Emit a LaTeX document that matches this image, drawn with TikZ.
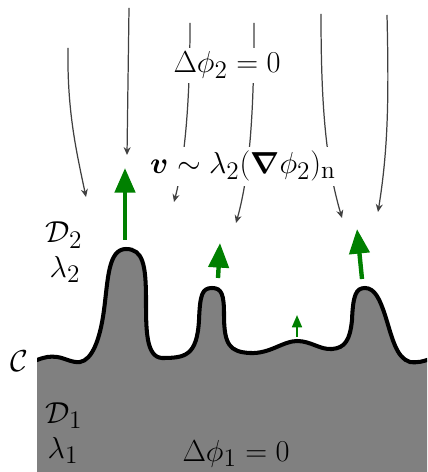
\documentclass[tikz,border=0pt]{standalone}
\usepackage{amsmath,bm}
\usetikzlibrary{arrows.meta}

\begin{document}
\begin{tikzpicture}[x=0.02cm,y=-0.02cm,
  flowline/.style={draw=black!75,line width=0.7pt,-{Stealth[length=4.5pt,width=4pt]}},
  velarrow/.style={draw=green!50!black,line width=2.5pt,-{Triangle[length=14pt,width=11.4pt]}},
  velsmall/.style={draw=green!50!black,line width=1.2pt,-{Triangle[length=7pt,width=5.6pt]}},
  lab/.style={font=\fontsize{19}{23}\selectfont,anchor=base,inner sep=0pt},
  eqlab/.style={font=\fontsize{19}{23}\selectfont,anchor=base,fill=white,inner sep=2.5pt}]
  \useasboundingbox (0,0) rectangle (427,472);
  \begin{scope}
    \clip (37,0) rectangle (427,472);
    \draw[fill=gray,line width=2.3pt] (20,360) -- (37,360)
      .. controls (45,357) and (50,356) .. (57,357)
      .. controls (65,358) and (72,363) .. (80,362)
      .. controls (92,360) and (100,340) .. (104,310)
      .. controls (108,280) and (108,249) .. (126,249)
      .. controls (143,249) and (146,265) .. (146,300)
      .. controls (146,330) and (146,357) .. (162,358)
      .. controls (185,358) and (197,356) .. (199,320)
      .. controls (200,295) and (202,288) .. (212,288)
      .. controls (222,288) and (224,295) .. (224,315)
      .. controls (224,345) and (230,352) .. (250,353)
      .. controls (270,354) and (283,341) .. (297,341)
      .. controls (311,341) and (320,350) .. (332,349)
      .. controls (345,348) and (350,340) .. (352,320)
      .. controls (353,295) and (356,288) .. (365,288)
      .. controls (375,288) and (380,300) .. (385,315)
      .. controls (392,337) and (396,358) .. (410,362)
      .. controls (418,363) and (424,361) .. (427,360)
      -- (440,360) -- (440,490) -- (20,490) -- cycle;
  \end{scope}
  \coordinate (a0) at (68,48);   \coordinate (a1) at (86,197);
  \coordinate (b0) at (129,8);   \coordinate (b1) at (127,155);
  \coordinate (c0) at (190,23);  \coordinate (c1) at (174,202);
  \coordinate (d0) at (254,23);  \coordinate (d1) at (236,223);
  \coordinate (e0) at (321,14);  \coordinate (e1) at (342,218);
  \coordinate (f0) at (387,15);  \coordinate (f1) at (378,212);
  \draw[flowline] (a0) .. controls (67,110) and (76,150) .. (a1);
  \draw[flowline] (b0) -- (b1);
  \draw[flowline] (c0) .. controls (190,100) and (185,160) .. (c1);
  \draw[flowline] (d0) .. controls (254,100) and (251,170) .. (d1);
  \draw[flowline] (e0) .. controls (321,100) and (325,160) .. (e1);
  \draw[flowline] (f0) .. controls (389,100) and (388,150) .. (f1);
  \node[eqlab] (lap2) at (227,73) {$\Delta\phi_2=0$};
  \node[eqlab] (vel) at (243,174) {$\bm{v}\sim\lambda_2(\bm{\nabla}\phi_2)_{\mathrm{n}}$};
  \node[lab] (dom2) at (64,243) {$\mathcal{D}_2$};
  \node[lab] (lam2) at (65,277) {$\lambda_2$};
  \node[lab] (curve) at (19,371) {$\mathcal{C}$};
  \node[lab] (dom1) at (64,423) {$\mathcal{D}_1$};
  \node[lab] (lam1) at (63,458) {$\lambda_1$};
  \node[lab] (lap1) at (236,461) {$\Delta\phi_1=0$};
  \coordinate (p1) at (125,240);  \coordinate (q1) at (125,168);
  \coordinate (p2) at (218,278);  \coordinate (q2) at (220,243);
  \coordinate (p3) at (297,337);  \coordinate (q3) at (297,315);
  \coordinate (p4) at (362,279);  \coordinate (q4) at (357,229);
  \draw[velarrow] (p1) -- (q1);
  \draw[velarrow] (p2) -- (q2);
  \draw[velsmall] (p3) -- (q3);
  \draw[velarrow] (p4) -- (q4);
\end{tikzpicture}
\end{document}
